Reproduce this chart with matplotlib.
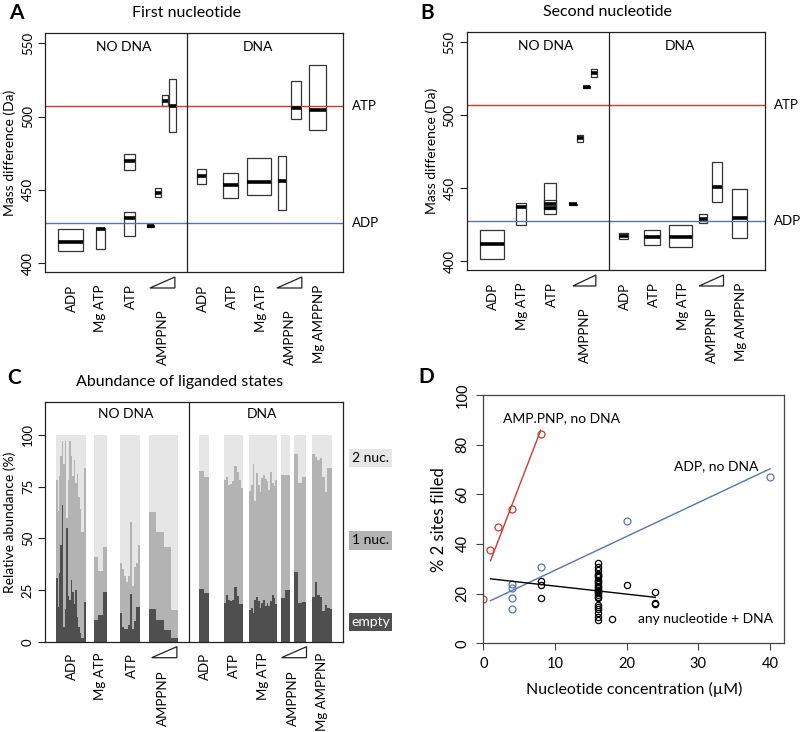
import numpy as np
import matplotlib
matplotlib.use("Agg")
from matplotlib import pyplot as plt
from matplotlib.patches import Rectangle, Polygon

plt.rcParams['font.family'] = ['Lato', 'DejaVu Sans']

# ---- data ----
cats_nodna = ["ADP", "Mg ATP", "ATP", "AMPPNP"]
cats_dna = ["ADP", "ATP", "Mg ATP", "AMPPNP", "Mg AMPPNP"]
ATP_MASS = 507
ADP_MASS = 427.5

# panel A: first nucleotide boxes (low, median, high)
first_low = [408.6, 410, 463.4, 418.6, 424.8, 445, 507.3, 489.5, 454, 444.5, 446.4, 436.6, 498.4, 490.7]
first_med = [414.5, 423, 470, 430.9, 425.5, 448, 510.7, 507, 459.8, 453.4, 455.2, 456, 505.7, 504.6]
first_high = [423.6, 424.3, 474.3, 434.8, 426.2, 451, 514.5, 525.5, 464.5, 461.8, 471.6, 473.4, 524.3, 535.2]

# panel B: second nucleotide boxes
second_low = [401.4, 425.1, 436, 432.6, 438.6, 481.5, 518.8, 526, 415.5, 411.4, 409.8, 426, 440.4, 416.2]
second_med = [411.6, 436.9, 439, 436.5, 439, 484.1, 519.5, 528.8, 417.1, 416.4, 416.9, 429, 451, 429.4]
second_high = [421.7, 440.1, 453.6, 442.2, 439.4, 486.5, 520.2, 532, 419, 421.2, 424.6, 432.6, 468.2, 449.5]

# panel C: relative abundance per sample, (empty + 1 nuc.) top and empty top
c_mid = [
    [78, 63, 80, 90, 97, 86, 97, 60, 78, 97, 90, 80, 88, 77, 81, 70, 64, 53, 53, 84],   # ADP
    [41, 34, 46],                                                                       # Mg ATP
    [38, 35, 32, 29, 32, 58, 27, 36, 38, 47],                                           # ATP
    [62.5, 53, 46, 15.5],                                                               # AMPPNP
    [82.6, 79.5],                                                                       # ADP + DNA
    [78, 79.5, 76, 76.5, 77.5, 85, 82, 78, 74.5],                                       # ATP + DNA
    [73, 76, 86, 68, 81.5, 76, 72.5, 79, 80.5, 78.5, 77.5, 73.5, 82, 77, 75.5, 78],     # Mg ATP + DNA
    [80.8, 80.5],                                                                       # AMPPNP + DNA
    [90.6, 76.6, 79.5],
    [90.8, 89.5, 87.9, 89, 79.8, 72.6, 83.9, 84],                                       # Mg AMPPNP + DNA
]
c_dark = [
    [31, 17, 33, 47, 66, 7, 16, 55, 22, 20, 30, 24, 18, 25, 12, 7, 4, 2, 2, 19],
    [10.5, 13, 24],
    [14, 7, 6, 6, 8, 23, 6, 10, 17, 17],
    [16, 10.5, 5.5, 2],
    [25.5, 23.5],
    [18.5, 22.6, 20, 19.5, 20, 26.3, 22.3, 18.2, 18.2],
    [15.5, 16.5, 14, 20, 21.5, 19.5, 16.5, 18.5, 20, 17.5, 18.5, 17.5, 19.5, 22.5, 21, 18],
    [21, 25],
    [33.9, 18.5, 19],
    [21.8, 29, 22.6, 21.8, 14.8, 17.7, 16.1, 15.8],
]

# panel D
red_x = [0, 1, 2, 4, 8]
red_y = [18, 37.5, 47, 54.2, 84.4]
blue_x = [4, 4, 4, 4, 8, 20, 40]
blue_y = [23.8, 22.1, 18.3, 13.7, 30.7, 49.4, 67]
black_x = [8, 8, 8] + [16] * 27 + [18, 20, 24, 24, 24]
black_y = [25.1, 23.5, 18.4,
           32.2, 30.9, 29.5, 27.9, 27.5, 27.2, 26.6, 25.5, 25, 24.6, 23.9, 23.1, 22.5, 22.1,
           21.5, 21, 20.8, 20.1, 19.5, 18.8, 18.1, 15.4, 14.5, 13.8, 12.1, 10.7, 9.4,
           9.7, 23.5, 20.5, 16.1, 15.7]

# ---- layout ----
W, H = 800, 732
fig = plt.figure(figsize=(W / 100, H / 100), dpi=100)

def axes_px(left, top, right, bottom):
    return fig.add_axes([left / W, (H - bottom) / H, (right - left) / W, (bottom - top) / H])

RED = '#cc3a32'
BLUE = '#5872b4'
FRAME = '#222222'
label_x_nodna = [0.92, 1.9, 2.95, 4.06]
label_x_dna = [5.45, 6.45, 7.45, 8.45, 9.45]
divider = 4.9
FS = 9.5


def cat_labels(ax, xs_nodna, xs_dna, tri_nodna, tri_dna, off=9, amp_off=27):
    xs = list(xs_nodna) + list(xs_dna)
    labs = cats_nodna + cats_dna
    for x, lab in zip(xs, labs):
        o = amp_off if lab == "AMPPNP" else off
        ax.annotate(lab, xy=(x, 0), xycoords=('data', 'axes fraction'),
                    xytext=(0, -o), textcoords='offset points',
                    rotation=90, ha='center', va='top', fontsize=FS)
    tr = ax.get_xaxis_transform()
    h = ax.bbox.height
    y0, y1 = -16 / h, -5 / h
    for a, b in (tri_nodna, tri_dna):
        ax.add_patch(Polygon([(a, y0), (b, y0), (b, y1)], closed=True, fill=False,
                             ec=FRAME, lw=0.9, transform=tr, clip_on=False))


def frame(ax, color=FRAME):
    for s in ax.spines.values():
        s.set_color(color)
        s.set_linewidth(0.9)


def box_panel(ax, centers, widths, low, med, high, tri_nodna, tri_dna):
    ax.set_xlim(0, 10.28)
    ax.set_ylim(394, 557)
    ax.axhline(ATP_MASS, color=RED, lw=1)
    ax.axhline(ADP_MASS, color=BLUE, lw=1)
    ax.axvline(divider, color=FRAME, lw=0.9)
    for c, w, lo, m, hi in zip(centers, widths, low, med, high):
        ax.add_patch(Rectangle((c - w / 2, lo), w, hi - lo, fill=False, ec='#333333', lw=0.9))
        ax.plot([c - w / 2, c + w / 2], [m, m], color='k', lw=2.6, solid_capstyle='butt')
    ax.set_xticks([])
    ax.set_yticks([400, 450, 500, 550])
    ax.set_yticklabels(['400', '450', '500', '550'], rotation=90, va='center', fontsize=FS)
    ax.tick_params(axis='y', length=5, width=0.8, color=FRAME, pad=3)
    ax.set_ylabel('Mass difference (Da)', fontsize=10, labelpad=4)
    ax.text(0.265, 0.94, 'NO DNA', transform=ax.transAxes, ha='center', va='center', fontsize=10)
    ax.text(0.715, 0.94, 'DNA', transform=ax.transAxes, ha='center', va='center', fontsize=10)
    tr = ax.get_yaxis_transform()
    ax.text(1.03, ATP_MASS, 'ATP', transform=tr, va='center', fontsize=9.5)
    ax.text(1.03, ADP_MASS, 'ADP', transform=tr, va='center', fontsize=9.5)
    frame(ax)
    cat_labels(ax, label_x_nodna, label_x_dna, tri_nodna, tri_dna)


# Panel A
axA = axes_px(45, 33, 343, 272)
box_panel(axA,
          [0.88, 1.91, 2.91, 2.91, 3.64, 3.9, 4.14, 4.4, 5.4, 6.4, 7.38, 8.17, 8.66, 9.4],
          [0.86, 0.31, 0.38, 0.38, 0.22, 0.21, 0.21, 0.24, 0.31, 0.52, 0.82, 0.28, 0.35, 0.59],
          first_low, first_med, first_high, (3.62, 4.48), (8.0, 8.86))
fig.text(9 / W, 1 - 13 / H, 'A', fontsize=15, fontweight='bold', va='center', ha='left')
fig.text(187 / W, 1 - 13 / H, 'First nucleotide', fontsize=11.5, va='center', ha='center')

# Panel B
axB = axes_px(466.7, 32, 765, 270)
box_panel(axB,
          [0.875, 1.88, 2.88, 2.88, 3.66, 3.9, 4.13, 4.38, 5.4, 6.39, 7.38, 8.14, 8.64, 9.4],
          [0.84, 0.34, 0.41, 0.41, 0.25, 0.22, 0.23, 0.2, 0.33, 0.54, 0.79, 0.28, 0.34, 0.53],
          second_low, second_med, second_high, (3.66, 4.45), (8.01, 8.85))
fig.text(420 / W, 1 - 13 / H, 'B', fontsize=15, fontweight='bold', va='center', ha='left')
fig.text(607 / W, 1 - 12 / H, 'Second nucleotide', fontsize=11.5, va='center', ha='center')

# Panel C
axC = axes_px(45, 402.3, 343, 641.7)
axC.set_xlim(0, 10.28)
axC.set_ylim(0, 115.8)
LIGHT, MID, DARK = '#e6e6e6', '#b3b3b3', '#4f4f4f'
groups = [(0.38, 1.41), (1.70, 2.13), (2.60, 3.29), (3.59, 4.60), (5.31, 5.66),
          (6.18, 6.82), (7.04, 8.01), (8.13, 8.45), (8.59, 9.01), (9.22, 9.91)]
for (g0, g1), mids, darks in zip(groups, c_mid, c_dark):
    n = len(mids)
    w = (g1 - g0) / n
    xs = g0 + w * (np.arange(n) + 0.5)
    axC.bar(xs, [100] * n, width=w, color=LIGHT, lw=0)
    axC.bar(xs, mids, width=w, color=MID, lw=0)
    axC.bar(xs, darks, width=w, color=DARK, lw=0)
axC.axvline(4.98, color=FRAME, lw=0.9)
axC.set_xticks([])
axC.set_yticks([0, 25, 50, 75, 100])
axC.set_yticklabels(['0', '25', '50', '75', '100'], rotation=90, va='center', fontsize=FS)
axC.tick_params(axis='y', length=5, width=0.8, color=FRAME, pad=3)
axC.set_ylabel('Relative abundance (%)', fontsize=10, labelpad=4)
axC.text(0.27, 0.95, 'NO DNA', transform=axC.transAxes, ha='center', va='center', fontsize=10)
axC.text(0.727, 0.95, 'DNA', transform=axC.transAxes, ha='center', va='center', fontsize=10)
for yc, lab, fc, tc in ((0.768, '2 nuc.', LIGHT, 'k'), (0.423, '1 nuc.', MID, 'k'), (0.082, 'empty', DARK, 'w')):
    axC.add_patch(Rectangle((1.02, yc - 0.038), 0.146, 0.076, transform=axC.transAxes,
                            fc=fc, ec='none', clip_on=False))
    axC.text(1.093, yc, lab, transform=axC.transAxes, ha='center', va='center', fontsize=10, color=tc)
frame(axC)
cat_labels(axC, [0.92, 1.9, 2.99, 4.07], [5.52, 6.53, 7.53, 8.54, 9.54], (3.68, 4.55), (8.16, 9.02),
           off=8, amp_off=21)
fig.text(7 / W, 1 - 378 / H, 'C', fontsize=15, fontweight='bold', va='center', ha='left')
fig.text(180 / W, 1 - 382 / H, 'Abundance of liganded states', fontsize=11.5, va='center', ha='center')

# Panel D
axD = axes_px(483.3, 395, 784.3, 643.3)
axD.set_xlim(0, 42)
axD.set_ylim(0, 100)
mk = dict(ls='none', marker='o', mfc='none', ms=5, mew=0.9)
axD.plot(red_x, red_y, color=RED, **mk)
axD.plot(blue_x, blue_y, color=BLUE, **mk)
axD.plot(black_x, black_y, color='k', ms=4.5, ls='none', marker='o', mfc='none', mew=0.9)
for xs, ys, col in ((red_x, red_y, RED), (blue_x, blue_y, BLUE), (black_x, black_y, 'k')):
    k, b = np.polyfit(xs, ys, 1)
    xx = np.array([1, max(xs)])
    axD.plot(xx, k * xx + b, color=col, lw=1)
axD.text(2.75, 90.7, 'AMP.PNP, no DNA', fontsize=10, va='center')
axD.text(26.6, 71.4, 'ADP, no DNA', fontsize=10, va='center')
axD.text(21.6, 9.7, 'any nucleotide + DNA', fontsize=10, va='center')
axD.set_xticks([0, 10, 20, 30, 40])
axD.set_xticklabels(['0', '10', '20', '30', '40'], fontsize=10.5)
axD.set_yticks([0, 20, 40, 60, 80, 100])
axD.set_yticklabels(['0', '20', '40', '60', '80', '100'], rotation=90, va='center', fontsize=10.5)
axD.tick_params(length=5, width=0.8, color='#444444', pad=5)
axD.set_xlabel('Nucleotide concentration (\u00b5M)', fontsize=11.5, labelpad=8)
axD.set_ylabel('% 2 sites filled', fontsize=12, labelpad=6)
frame(axD, '#444444')
fig.text(418 / W, 1 - 377 / H, 'D', fontsize=15, fontweight='bold', va='center', ha='left')

fig.savefig('out.png', dpi=100)
